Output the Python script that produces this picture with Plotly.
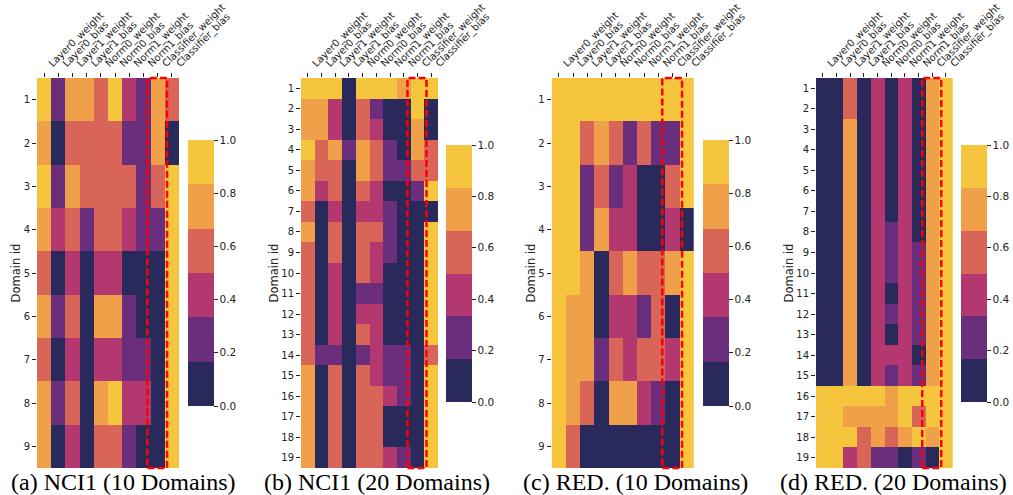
import plotly.graph_objects as go

columns = ["Layer0_weight", "Layer0_bias", "Layer1_weight", "Layer1_bias", "Norm0_weight",
           "Norm0_bias", "Norm1_weight", "Norm1_bias", "Classifier_weight", "Classifier_bias"]

# (a) NCI1 (10 Domains), rows = domain id 1..9
nci1_10 = [
    [.95, .25, .75, .75, .60, .95, .40, .25, .75, .60],
    [.75, .05, .60, .60, .60, .60, .25, .25, .75, .05],
    [.95, .25, .75, .60, .60, .60, .60, .25, .60, .95],
    [.75, .40, .60, .25, .60, .60, .40, .25, .25, .95],
    [.60, .05, .40, .05, .40, .40, .05, .05, .05, .95],
    [.75, .25, .60, .05, .75, .75, .25, .05, .05, .95],
    [.60, .05, .40, .05, .40, .40, .25, .25, .05, .95],
    [.75, .25, .60, .05, .75, .95, .40, .40, .05, .95],
    [.75, .05, .40, .05, .60, .60, .25, .05, .05, .95],
]

# (b) NCI1 (20 Domains), rows = domain id 1..19
nci1_20 = [
    [.95, .95, .95, .05, .95, .95, .95, .75, .95, .95],
    [.75, .75, .40, .05, .60, .25, .05, .05, .95, .05],
    [.75, .75, .40, .05, .60, .40, .05, .05, .75, .05],
    [.95, .60, .75, .25, .75, .60, .25, .05, .75, .60],
    [.75, .60, .60, .05, .75, .60, .25, .25, .60, .60],
    [.75, .40, .60, .05, .60, .40, .05, .05, .25, .95],
    [.60, .05, .40, .05, .40, .40, .25, .05, .05, .05],
    [.75, .05, .60, .05, .60, .60, .25, .05, .05, .95],
    [.60, .05, .60, .05, .60, .40, .25, .05, .05, .95],
    [.60, .05, .40, .05, .60, .40, .05, .05, .05, .95],
    [.60, .05, .40, .05, .25, .25, .05, .05, .05, .95],
    [.60, .05, .40, .05, .40, .40, .05, .05, .05, .95],
    [.60, .05, .40, .05, .60, .40, .05, .05, .05, .95],
    [.60, .25, .25, .05, .25, .40, .25, .25, .05, .60],
    [.75, .05, .60, .05, .60, .40, .25, .25, .05, .95],
    [.75, .05, .60, .05, .60, .60, .40, .25, .05, .95],
    [.75, .05, .60, .05, .60, .60, .05, .05, .05, .95],
    [.75, .05, .60, .05, .60, .60, .05, .05, .05, .95],
    [.75, .05, .60, .05, .60, .60, .40, .25, .05, .95],
]

# (c) RED. (10 Domains)
red_10 = [
    [.95, .95, .95, .95, .95, .95, .95, .95, .95, .95],
    [.95, .95, .60, .75, .60, .25, .60, .25, .25, .95],
    [.95, .95, .25, .60, .25, .40, .05, .05, .60, .95],
    [.95, .95, .25, .75, .40, .40, .05, .05, .40, .05],
    [.95, .95, .75, .05, .60, .75, .60, .60, .75, .95],
    [.95, .75, .75, .05, .40, .40, .25, .60, .05, .95],
    [.95, .75, .75, .25, .60, .40, .60, .60, .40, .95],
    [.95, .75, .60, .05, .75, .75, .40, .25, .05, .95],
    [.95, .60, .05, .05, .05, .05, .05, .05, .05, .95],
]

# (d) RED. (20 Domains)
red_20 = [
    [.05, .05, .60, .05, .40, .05, .40, .05, .75, .95],
    [.05, .05, .60, .05, .40, .05, .40, .05, .75, .95],
    [.05, .05, .75, .05, .40, .05, .40, .05, .75, .95],
    [.05, .05, .75, .05, .40, .05, .40, .05, .75, .95],
    [.05, .05, .75, .05, .40, .05, .40, .05, .75, .95],
    [.05, .05, .75, .05, .40, .05, .40, .05, .75, .95],
    [.05, .05, .75, .05, .40, .05, .40, .05, .75, .95],
    [.05, .05, .75, .05, .40, .25, .40, .05, .75, .95],
    [.05, .05, .75, .05, .40, .25, .40, .25, .75, .95],
    [.05, .05, .75, .05, .40, .25, .40, .25, .75, .95],
    [.05, .05, .75, .05, .40, .05, .40, .25, .75, .95],
    [.05, .05, .75, .05, .40, .25, .40, .25, .75, .95],
    [.05, .05, .75, .05, .40, .05, .40, .25, .75, .95],
    [.05, .05, .75, .05, .40, .40, .40, .05, .75, .95],
    [.05, .05, .75, .05, .40, .25, .40, .25, .75, .95],
    [.95, .95, .95, .95, .95, .75, .95, .95, .95, .95],
    [.95, .95, .75, .75, .75, .75, .95, .60, .95, .95],
    [.95, .95, .95, .60, .75, .60, .75, .95, .75, .95],
    [.95, .95, .40, .60, .25, .25, .05, .25, .05, .95],
]

captions = ["(a) NCI1 (10 Domains)", "(b) NCI1 (20 Domains)",
            "(c) RED. (10 Domains)", "(d) RED. (20 Domains)"]
colorbar_ticks = [0.0, 0.2, 0.4, 0.6, 0.8, 1.0]
highlight_column = "Classifier_weight"

palette = ["#29295c", "#6b2e7c", "#b3386f", "#d96558", "#f0a048", "#f5c53e"]
n = len(palette)
colorscale = []
for i, c in enumerate(palette):
    colorscale.append([i / n, c])
    colorscale.append([(i + 1) / n, c])

W, H = 1013, 495
panels = [
    dict(data=nci1_10, x0=37, x1=179, cb_x=188, cb_top=140, cb_bot=406, cap_x=123),
    dict(data=nci1_20, x0=301, x1=438, cb_x=446, cb_top=145, cb_bot=402, cap_x=377),
    dict(data=red_10, x0=551.7, x1=694, cb_x=702.7, cb_top=140, cb_bot=406, cap_x=635),
    dict(data=red_20, x0=816, x1=952.7, cb_x=961, cb_top=145, cb_bot=402, cap_x=893),
]
y_top, y_bot = 78, 468
font_family = "DejaVu Sans"
txt = "#222222"

fig = go.Figure()
hi = columns.index(highlight_column)
for k, p in enumerate(panels):
    sfx = "" if k == 0 else str(k + 1)
    rows = list(range(1, len(p["data"]) + 1))
    fig.add_trace(go.Heatmap(
        z=p["data"], x=columns, y=rows, zmin=0, zmax=1, colorscale=colorscale,
        xaxis="x" + sfx, yaxis="y" + sfx,
        colorbar=dict(
            x=p["cb_x"] / W, xanchor="left", xpad=0, ypad=0,
            y=1 - (p["cb_top"] + p["cb_bot"]) / 2 / H, yanchor="middle",
            len=(p["cb_bot"] - p["cb_top"]) / H, lenmode="fraction",
            thickness=26, thicknessmode="pixels", outlinewidth=0,
            tickvals=colorbar_ticks, ticktext=[f"{v:.1f}" for v in colorbar_ticks],
            ticks="outside", ticklen=4, tickcolor=txt,
            tickfont=dict(family=font_family, size=10.5, color=txt),
        ),
    ))
    fig.layout["xaxis" + sfx] = dict(
        domain=[p["x0"] / W, p["x1"] / W], anchor="y" + sfx, side="top",
        tickangle=-45, ticks="outside", ticklen=4, tickcolor=txt,
        ticklabelshift=5,
        tickfont=dict(family=font_family, size=10, color=txt),
        showgrid=False, zeroline=False, showline=False, automargin=False,
    )
    fig.layout["yaxis" + sfx] = dict(
        domain=[1 - y_bot / H, 1 - y_top / H], anchor="x" + sfx,
        autorange="reversed", tickvals=rows, ticks="outside", ticklen=4, tickcolor=txt,
        tickfont=dict(family=font_family, size=10, color=txt),
        title=dict(text="Domain id", font=dict(family=font_family, size=11.5, color=txt), standoff=0),
        showgrid=False, zeroline=False, showline=False, automargin=False,
    )
    fig.add_shape(type="rect", xref="x" + sfx, yref="y" + sfx + " domain",
                  x0=hi - 0.73, x1=hi + 0.66, y0=0, y1=1,
                  line=dict(color="#ff0000", width=2.5, dash="7px,3px"), layer="above")
    fig.add_annotation(text=captions[k], xref="paper", yref="paper",
                       x=p["cap_x"] / W, y=1 - 482 / H, xanchor="center", yanchor="middle",
                       showarrow=False,
                       font=dict(family="Liberation Serif", size=24, color="#000000"))

fig.update_layout(width=W, height=H, margin=dict(l=0, r=0, t=0, b=0),
                  paper_bgcolor="white", plot_bgcolor="white", showlegend=False)
fig.write_html("out.html", config={"displayModeBar": False},
               post_script="document.body.style.margin='0';document.body.style.overflow='hidden';")
